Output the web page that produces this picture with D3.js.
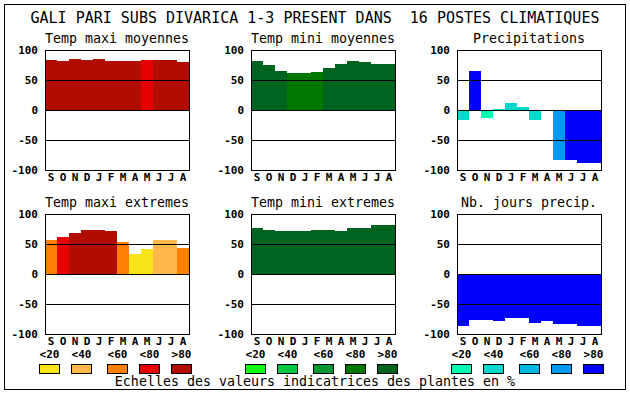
<!DOCTYPE html>
<html>
<head>
<meta charset="utf-8">
<script src="https://cdn.jsdelivr.net/npm/d3@7"></script>
<style>
  body { margin: 0; background: #fff; }
  svg { display: block; font-family: "DejaVu Sans Mono", monospace; }
  .tick { font-size: 11px; font-weight: bold; }
  .month { font-size: 11px; font-weight: bold; }
</style>
</head>
<body>
<svg id="chart"></svg>
<script>
// months (Sept -> Aug) and axis ticks
const months = ["S", "O", "N", "D", "J", "F", "M", "A", "M", "J", "J", "A"];
const yTicks = [100, 50, 0, -50, -100];
const classLabels = ["<20", "<40", "<60", "<80", ">80"];

const redColors = ["#f8e418", "#ffb84c", "#ff8000", "#e80000", "#b00c00"];
const greenColors = ["#10ff10", "#00c840", "#009830", "#007800", "#006420"];
const blueColors = ["#00ffb0", "#00d8cc", "#00b8e0", "#0098f0", "#0000ff"];

// values per month, and colour class (0..4) per month
const maxiMoy = [83, 82, 85, 83, 85, 82, 82, 82, 83, 83, 83, 80];
const maxiMoyClass = [4, 4, 4, 4, 4, 4, 4, 4, 3, 4, 4, 4];

const miniMoy = [82, 75, 65, 62, 62, 63, 70, 77, 82, 80, 77, 77];
const miniMoyClass = [4, 4, 4, 3, 3, 3, 4, 4, 4, 4, 4, 4];

const precip = [-17, 65, -13, 2, 12, 5, -17, 0, -83, -83, -88, -88];
const precipClass = [1, 4, 0, 1, 1, 1, 1, 1, 3, 4, 4, 4];

const maxiExt = [56, 62, 68, 74, 74, 71, 54, 34, 41, 56, 56, 44];
const maxiExtClass = [2, 3, 4, 4, 4, 4, 2, 0, 0, 1, 1, 2];

const miniExt = [76, 74, 72, 71, 71, 74, 74, 72, 76, 77, 81, 81];
const miniExtClass = [4, 4, 4, 4, 4, 4, 4, 4, 4, 4, 4, 4];

const jours = [-87, -76, -76, -78, -73, -73, -81, -78, -84, -84, -87, -86];
const joursClass = [4, 4, 4, 4, 4, 4, 4, 4, 4, 4, 4, 4];

const title = "GALI PARI SUBS DIVARICA 1-3 PRESENT DANS  16 POSTES CLIMATIQUES";
const caption = "Echelles des valeurs indicatrices des plantes en %";

const W = 630, H = 394;
const plotW = 144, plotH = 120;
const colX = [45, 251, 457];
const rowY = [50, 214];

const panels = [
    {name: "Temp maxi moyennes", values: maxiMoy, cls: maxiMoyClass, colors: redColors, col: 0, row: 0},
    {name: "Temp mini moyennes", values: miniMoy, cls: miniMoyClass, colors: greenColors, col: 1, row: 0},
    {name: "Precipitations", values: precip, cls: precipClass, colors: blueColors, col: 2, row: 0},
    {name: "Temp maxi extremes", values: maxiExt, cls: maxiExtClass, colors: redColors, col: 0, row: 1},
    {name: "Temp mini extremes", values: miniExt, cls: miniExtClass, colors: greenColors, col: 1, row: 1},
    {name: "Nb. jours precip.", values: jours, cls: joursClass, colors: blueColors, col: 2, row: 1}
];

const svg = d3.select("#chart").attr("width", W).attr("height", H);

svg.append("rect")
    .attr("x", 4.5).attr("y", 4.5)
    .attr("width", 621).attr("height", 385)
    .attr("fill", "none").attr("stroke", "#000");

svg.append("text")
    .attr("x", 315).attr("y", 23)
    .attr("text-anchor", "middle")
    .attr("font-size", 15)
    .attr("xml:space", "preserve")
    .style("white-space", "pre")
    .text(title);

const x = d3.scaleBand().domain(d3.range(12)).range([0, plotW]).padding(0);
const y = d3.scaleLinear().domain([-100, 100]).range([plotH, 0]);

panels.forEach(function (p) {
    let g = svg.append("g")
        .attr("transform", "translate(" + colX[p.col] + "," + rowY[p.row] + ")");

    g.append("text")
        .attr("x", plotW / 2).attr("y", -7)
        .attr("text-anchor", "middle")
        .attr("font-size", 13.3)
        .text(p.name);

    g.selectAll("rect.bar")
        .data(p.values)
        .enter()
        .append("rect")
        .attr("class", "bar")
        .attr("shape-rendering", "crispEdges")
        .attr("x", (d, i) => x(i))
        .attr("width", x.bandwidth())
        .attr("y", d => y(Math.max(d, 0)))
        .attr("height", d => Math.abs(y(d) - y(0)))
        .attr("fill", (d, i) => p.colors[p.cls[i]]);

    g.selectAll("line.grid")
        .data([50, 0, -50])
        .enter()
        .append("line")
        .attr("x1", 0).attr("x2", plotW)
        .attr("y1", d => y(d) + 0.5).attr("y2", d => y(d) + 0.5)
        .attr("stroke", "#000");

    g.append("rect")
        .attr("x", 0.5).attr("y", 0.5)
        .attr("width", plotW).attr("height", plotH)
        .attr("fill", "none").attr("stroke", "#000");

    g.selectAll("text.tick")
        .data(yTicks)
        .enter()
        .append("text")
        .attr("class", "tick")
        .attr("x", -7)
        .attr("y", d => y(d))
        .attr("dy", "0.35em")
        .attr("text-anchor", "end")
        .text(d => d);

    g.selectAll("text.month")
        .data(months)
        .enter()
        .append("text")
        .attr("class", "month")
        .attr("x", (d, i) => x(i) + x.bandwidth() / 2)
        .attr("y", plotH + 11)
        .attr("text-anchor", "middle")
        .text(d => d);
});

// colour scales under the bottom row
const legendOffsets = [-6, 26, 62, 94, 126];
const legendSets = [redColors, greenColors, blueColors];

legendSets.forEach(function (colors, c) {
    let g = svg.append("g").attr("transform", "translate(" + colX[c] + ",0)");
    g.selectAll("rect")
        .data(colors)
        .enter()
        .append("rect")
        .attr("x", (d, i) => legendOffsets[i] + 0.5)
        .attr("y", 364.5)
        .attr("width", 20).attr("height", 9)
        .attr("fill", d => d)
        .attr("stroke", "#000");
    g.selectAll("text")
        .data(classLabels)
        .enter()
        .append("text")
        .attr("class", "tick")
        .attr("x", (d, i) => legendOffsets[i] + 10.5)
        .attr("y", 358)
        .attr("text-anchor", "middle")
        .text(d => d);
});

svg.append("text")
    .attr("x", 315).attr("y", 386)
    .attr("text-anchor", "middle")
    .attr("font-size", 13.3)
    .text(caption);
</script>
</body>
</html>
